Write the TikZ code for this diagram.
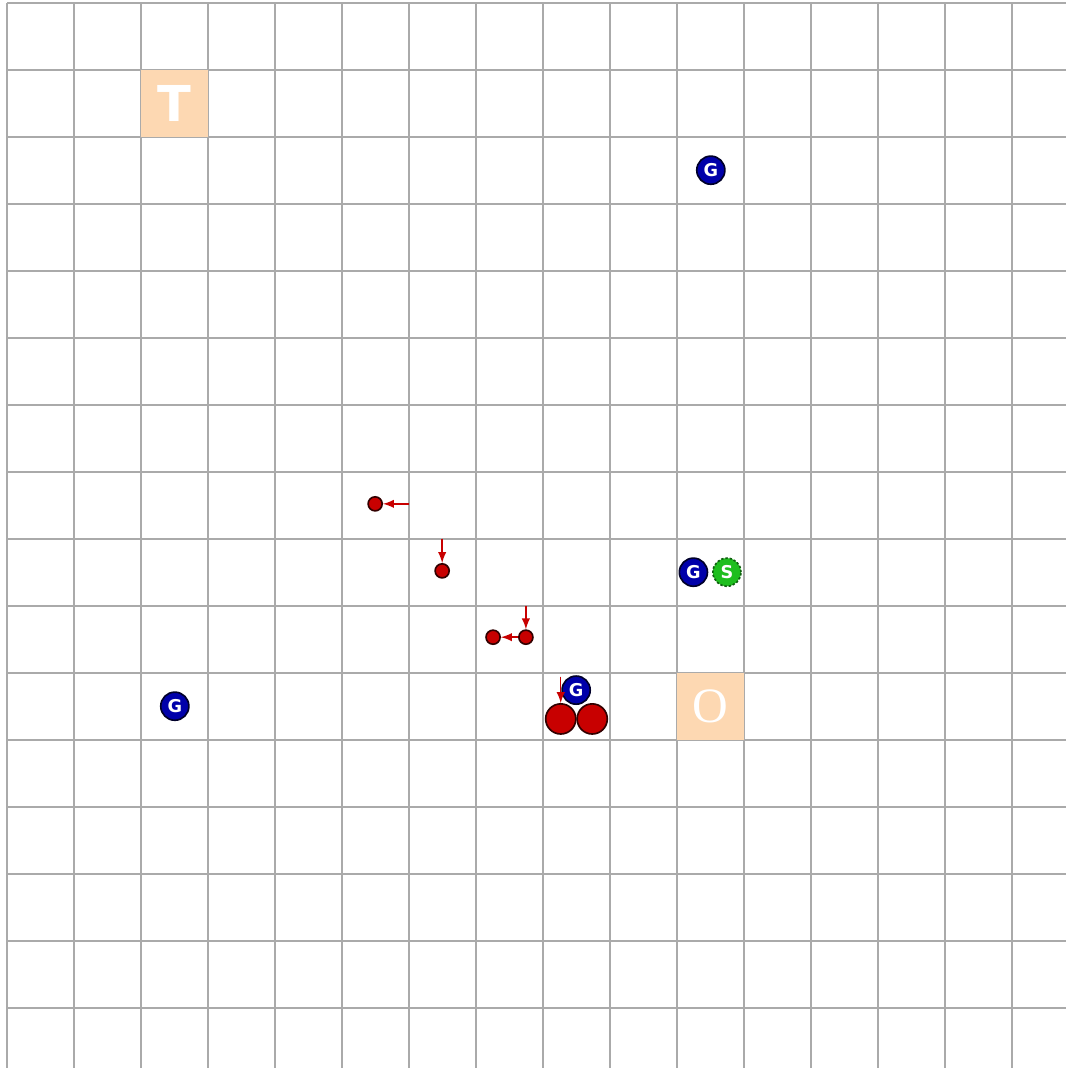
\documentclass[tikz,border=0pt]{standalone}
\usepackage{fontspec}
\setmainfont{DejaVu Sans}
\newfontfamily\ofont{Liberation Serif}
\usepackage{tikz}
\usetikzlibrary{shapes,arrows,positioning,calc}
\definecolor{gridgray}{RGB}{170,170,170}
\definecolor{tilepeach}{RGB}{253,216,178}
\definecolor{agentblue}{RGB}{0,0,170}
\definecolor{agentred}{RGB}{200,0,0}
\definecolor{agentgreen}{RGB}{30,190,30}

\begin{document}
\begin{tikzpicture}[
    gridline/.style={draw=gridgray, line width=0.8pt},
    tile/.style={rectangle, fill=tilepeach, minimum size=1cm, inner sep=0pt, text=white, font=\fontsize{21}{21}\selectfont\bfseries},
    gball/.style={circle, draw=agentblue!25!black, line width=0.7pt, fill=agentblue, minimum size=0.42cm, inner sep=0pt, text=white, font=\fontsize{7.5}{8}\selectfont\bfseries},
    sball/.style={circle, draw=agentgreen!50!black, line width=0.7pt, dash pattern=on 1pt off 0.8pt, fill=agentgreen, minimum size=0.42cm, inner sep=0pt, text=white, font=\fontsize{7.5}{8}\selectfont\bfseries},
    bigred/.style={circle, draw=agentred!25!black, line width=0.7pt, fill=agentred, minimum size=0.45cm, inner sep=0pt},
    smallred/.style={circle, draw=agentred!25!black, line width=0.7pt, fill=agentred, minimum size=0.21cm, inner sep=0pt},
    arrow/.style={->, >=latex, draw=agentred, fill=agentred, line width=0.6pt}
]
\useasboundingbox (-0.109,0.04) rectangle (15.80,-15.90);
\fill[white] (-0.109,0.04) rectangle (15.80,-15.90);
\draw[gridline] (0,0) grid (15.8,-15.9);

% tiles
\node[tile] (tee) at (2.5,-1.5) {T};
\node[tile, font=\fontsize{21}{21}\selectfont\ofont] (oh) at (10.5,-10.5) {O};

% blue and green agents
\node[gball] (g1) at (10.5,-2.5) {G};
\node[gball] (g2) at (2.5,-10.5) {G};
\node[gball] (g3) at (10.24,-8.5) {G};
\node[sball] (s1) at (10.74,-8.5) {S};
\node[gball] (g4) at (8.49,-10.26) {G};

% red agents
\node[bigred] (big1) at (8.26,-10.69) {};
\node[bigred] (big2) at (8.73,-10.69) {};
\node[smallred] (r1) at (5.49,-7.48) {};
\node[smallred] (r2) at (6.49,-8.48) {};
\node[smallred] (r3) at (7.74,-9.47) {};
\node[smallred] (r4) at (7.25,-9.47) {};

\coordinate (from1) at (6.0,-7.48);
\coordinate (from2) at (6.49,-8.0);
\coordinate (from3) at (7.74,-9.0);
\coordinate (from4) at (8.26,-10.06);

\draw[arrow] (from1) -- (r1);
\draw[arrow] (from2) -- (r2);
\draw[arrow] (from3) -- (r3);
\draw[arrow] (r3) -- (r4);
\draw[arrow] (from4) -- (big1);

\end{tikzpicture}
\end{document}
